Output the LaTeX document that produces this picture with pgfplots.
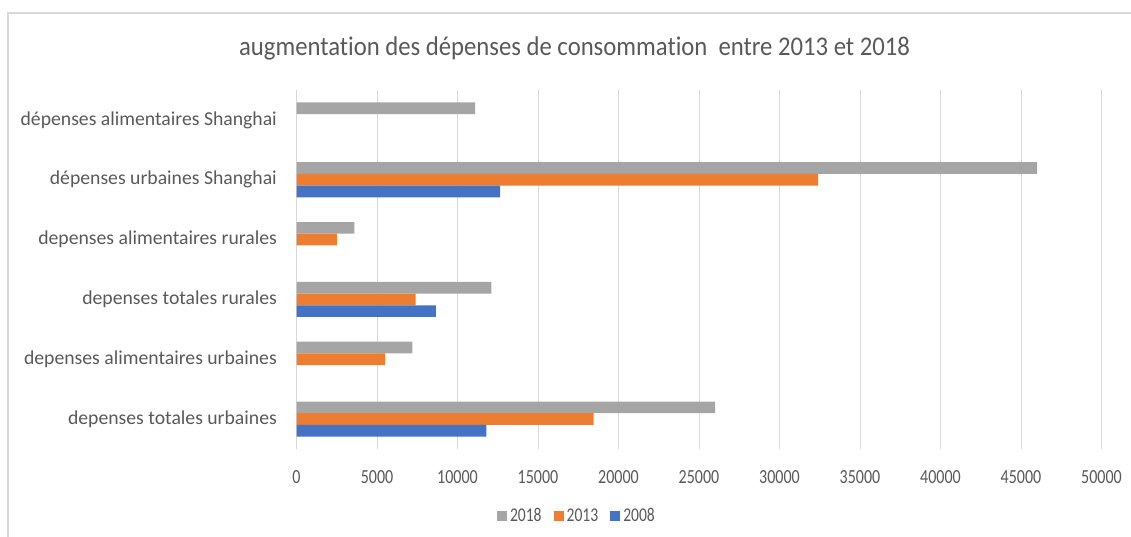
\documentclass[border=0pt]{standalone}
\usepackage{fontspec}
\setmainfont[Ligatures=NoCommon]{Carlito}
\newfontfamily\tickfont[FakeStretch=0.8,Ligatures=NoCommon]{Carlito}
\newfontfamily\titlefont[FakeStretch=0.915,Ligatures=NoCommon]{Carlito}
\usepackage{pgfplots}
\pgfplotsset{compat=1.18}
\definecolor{cgray}{HTML}{A5A5A5}
\definecolor{corange}{HTML}{ED7D31}
\definecolor{cblue}{HTML}{4472C4}
\definecolor{gridgray}{HTML}{D9D9D9}
\definecolor{textgray}{HTML}{595959}
\definecolor{framegray}{HTML}{D9D9D9}
\begin{document}
\begin{tikzpicture}
\useasboundingbox (0,0) rectangle (1131bp,-537bp);
\draw[color=framegray, line width=1.2bp] (8bp,-537bp) -- (8bp,-13bp) -- (1131bp,-13bp);
\node[font=\titlefont\fontsize{27bp}{30bp}\selectfont, text=textgray, anchor=base, inner sep=0pt] at (574.5bp,-55bp) {augmentation des dépenses de consommation\ \ entre 2013 et 2018};
\begin{axis}[
  at={(296.5bp,-449bp)}, anchor=south west,
  scale only axis, width=805bp, height=359bp,
  xmin=0, xmax=50000, ymin=-0.5, ymax=5.5,
  xbar, bar width=11.7bp,
  axis line style={draw=none},
  major tick length=0pt,
  xmajorgrids, grid style={gridgray, line width=0.9bp},
  xtick={0,5000,...,50000},
  scaled x ticks=false,
  /pgf/number format/assume math mode=true,
  /pgf/number format/1000 sep={},
  xticklabel style={font=\tickfont\fontsize{20bp}{20bp}\selectfont, text=textgray, anchor=north, inner sep=0pt, yshift=-21bp},
  ytick={0,...,5},
  yticklabels={depenses totales urbaines, depenses alimentaires urbaines, depenses totales rurales, depenses alimentaires rurales, dépenses urbaines Shanghai, dépenses alimentaires Shanghai},
  yticklabel style={font=\fontsize{19.7bp}{22bp}\selectfont, text=textgray, anchor=east, inner sep=0pt, xshift=-19.5bp},
  legend style={at={(0.349,-0.1866)}, anchor=center, draw=none, fill=none, legend columns=-1,
    font=\tickfont\fontsize{19.5bp}{20bp}\selectfont, text=textgray,
    /tikz/every even column/.append style={column sep=9bp},
    nodes={inner xsep=3bp, inner ysep=2bp}},
  legend image code/.code={\fill[#1] (0bp,-5bp) rectangle (10bp,5bp);},
]
\addplot[fill=cgray, draw=none, bar shift=11.7bp] coordinates {(26000,0) (7200,1) (12100,2) (3600,3) (46000,4) (11100,5)};
\addplot[fill=corange, draw=none, bar shift=0bp] coordinates {(18450,0) (5500,1) (7400,2) (2500,3) (32400,4)};
\addplot[fill=cblue, draw=none, bar shift=-11.7bp] coordinates {(11800,0) (8650,2) (12650,4)};
\legend{2018,2013,2008}
\end{axis}
\end{tikzpicture}
\end{document}
